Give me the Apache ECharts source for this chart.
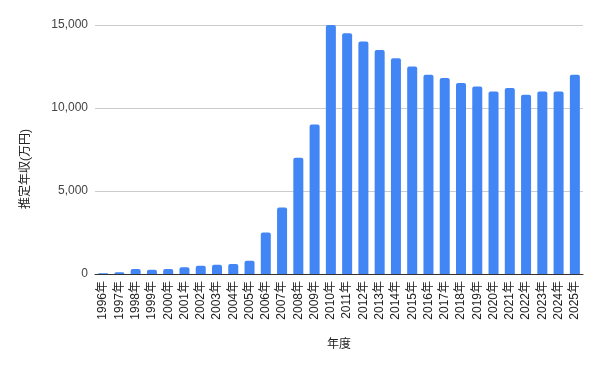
<!DOCTYPE html>
<html>
<head>
<meta charset="utf-8">
<script src="https://cdn.jsdelivr.net/npm/echarts@6/dist/echarts.min.js"></script>
<style>
html,body{margin:0;padding:0;background:#fff;}
#chart{width:601px;height:371px;}
</style>
</head>
<body>
<div id="chart"></div>
<script>
const categories = ['1996年','1997年','1998年','1999年','2000年','2001年','2002年','2003年','2004年','2005年',
  '2006年','2007年','2008年','2009年','2010年','2011年','2012年','2013年','2014年','2015年',
  '2016年','2017年','2018年','2019年','2020年','2021年','2022年','2023年','2024年','2025年'];
const income = [50,100,300,250,300,400,500,550,600,800,
  2500,4000,7000,9000,15000,14500,14000,13500,13000,12500,
  12000,11800,11500,11300,11000,11200,10800,11000,11000,12000];
const yTicks = [0,5000,10000,15000];
const xTitle = '年度';
const yTitle = '推定年収(万円)';

const FONT = 'Arial, "Liberation Sans", "Noto Sans CJK JP", sans-serif';
const chart = echarts.init(document.getElementById('chart'), null, {renderer:'canvas'});
chart.setOption({
  animation:false,
  grid:{left:95, right:18, top:25, bottom:97, containLabel:false},
  xAxis:{
    type:'category',
    data:categories,
    name:xTitle,
    nameLocation:'middle',
    nameGap:65,
    nameTextStyle:{color:'#222', fontSize:12, fontFamily:FONT},
    axisLine:{lineStyle:{color:'#333', width:1}},
    axisTick:{show:false},
    axisLabel:{interval:0, rotate:90, margin:7, color:'#222', fontSize:12, fontFamily:FONT}
  },
  yAxis:{
    type:'value',
    min:yTicks[0],
    max:yTicks[yTicks.length-1],
    interval:yTicks[1]-yTicks[0],
    axisLine:{show:false},
    axisTick:{show:false},
    splitLine:{lineStyle:{color:'#ccc', width:1}},
    axisLabel:{margin:7, color:'#444', fontSize:12, fontFamily:FONT,
      formatter:v=>v.toLocaleString('en-US')}
  },
  graphic:[{
    type:'text',
    x:26, y:169,
    rotation:Math.PI/2,
    style:{text:yTitle, fill:'#222', font:'12px '+FONT, align:'center', verticalAlign:'middle'}
  }],
  series:[{
    type:'bar',
    data:income,
    barWidth:10,
    itemStyle:{color:'#4285F4', borderRadius:[2,2,0,0]}
  }]
});
</script>
</body>
</html>
